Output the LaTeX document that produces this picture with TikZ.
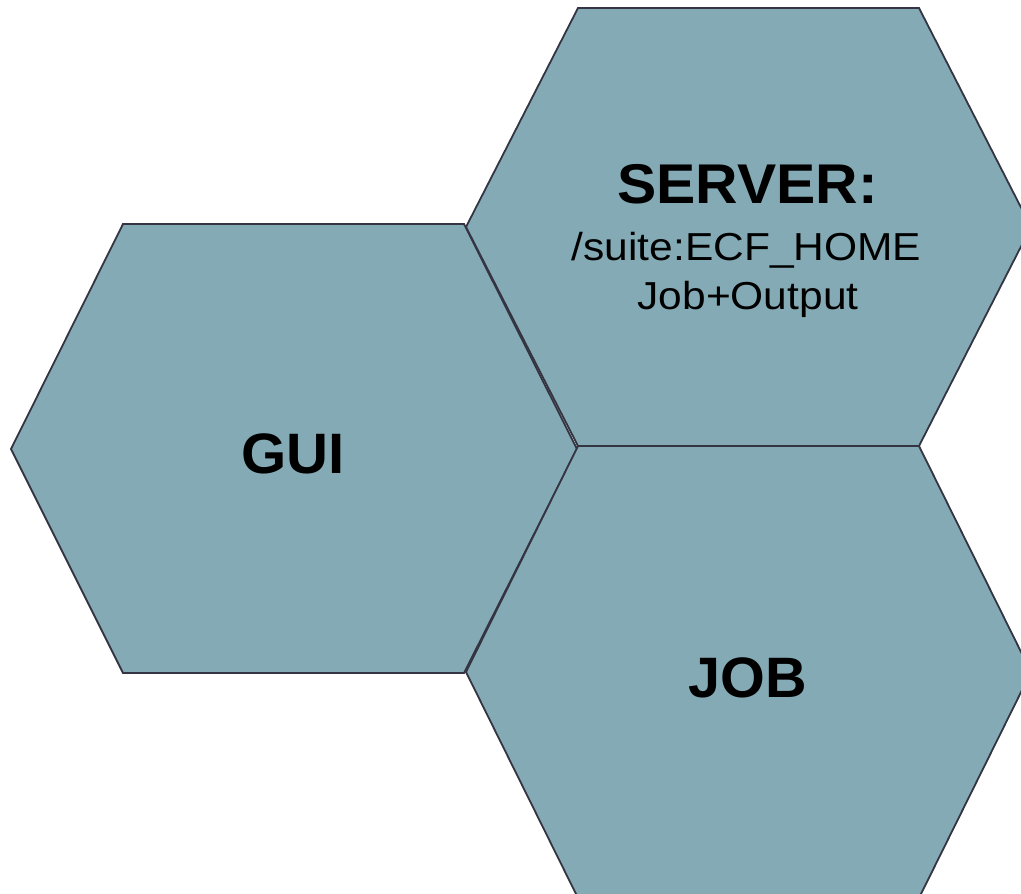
\documentclass[tikz,border=0pt]{standalone}
\usepackage{fontspec}
\setmainfont{Liberation Sans}
\definecolor{hexfill}{RGB}{132,171,181}
\definecolor{hexline}{RGB}{52,52,66}
\begin{document}
\begin{tikzpicture}[x=1pt,y=-1pt,
  hexcell/.style={fill=hexfill,draw=hexline,line width=1.8pt,line join=miter},
  bigtxt/.style={font=\fontsize{57}{60}\selectfont\bfseries,anchor=base,inner sep=0pt},
  smalltxt/.style={font=\fontsize{39}{44}\selectfont,anchor=base,inner sep=0pt}]
  \useasboundingbox (0,0) rectangle (1021,894);
  \clip (0,0) rectangle (1021,894);

  % GUI cell
  \draw[hexcell] (11,449) -- (123,224) -- (464,224) -- (577,449) -- (464,673) -- (123,673) -- cycle;
  % JOB cell
  \draw[hexcell] (466,672) -- (578,446) -- (919,446) -- (1031,672) -- (919,898) -- (578,898) -- cycle;
  % SERVER cell
  \draw[hexcell] (466,227) -- (578,8) -- (919,8) -- (1031,227) -- (919,446) -- (578,446) -- cycle;

  \node[bigtxt] (gui) at (293,473) {\scalebox{1.02}[1]{GUI}};
  \node[bigtxt] (job) at (748,697) {\scalebox{1.01}[1]{JOB}};
  \node[bigtxt,font=\fontsize{56}{60}\selectfont\bfseries] (server) at (747.5,203) {\scalebox{1.05}[1]{SERVER:}};
  \node[smalltxt] (suite) at (746.5,260) {\scalebox{1.09}[1]{/suite:ECF\_HOME}};
  \node[smalltxt] (output) at (748,309) {\scalebox{1.09}[1]{Job+Output}};
\end{tikzpicture}
\end{document}
